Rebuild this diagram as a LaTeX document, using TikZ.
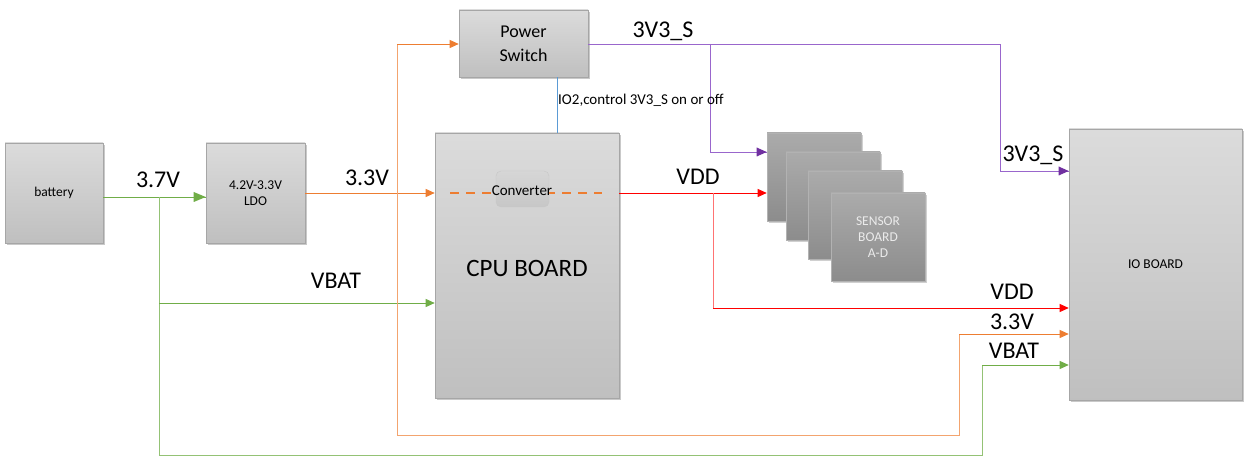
\documentclass[tikz,border=0pt]{standalone}
\usepackage{fontspec}
\setmainfont{Carlito}
\usetikzlibrary{arrows.meta,shadows}
\definecolor{cg}{HTML}{70AD47}
\definecolor{co}{HTML}{ED7D31}
\definecolor{cp}{HTML}{9966CC}
\definecolor{cpd}{HTML}{7030A0}
\definecolor{cr}{HTML}{FF0000}
\definecolor{cb}{HTML}{5B9BD5}
\tikzset{
  box/.style={draw=black!35, line width=0.6pt, top color=black!14, bottom color=black!25,
    drop shadow={shadow xshift=2pt, shadow yshift=-2pt, opacity=0.35, fill=black!60},
    align=center, font=\fontsize{13.5}{16}\selectfont, inner sep=0pt},
  sbox/.style={draw=black!30, line width=0.6pt, top color=black!33, bottom color=black!45,
    drop shadow={shadow xshift=2pt, shadow yshift=-2pt, opacity=0.3, fill=black!60},
    align=center, text=white!92!black, font=\fontsize{13.5}{16}\selectfont,
    minimum width=94, minimum height=88, inner sep=0pt},
  big/.style={font=\fontsize{24}{28}\selectfont, inner sep=0pt},
  wire/.style={line width=0.8pt},
  tip/.style={-{Triangle[length=9pt,width=8pt]}},
}
\begin{document}
\begin{tikzpicture}[x=1pt,y=-1pt]
\useasboundingbox (0,0) rectangle (1250,465);
\fill[white] (0,0) rectangle (1250,465);
% nodes
\node[box, minimum width=98, minimum height=100] (bat) at (54,193) {battery};
\node[box, minimum width=99, minimum height=100] (ldo) at (255.5,193) {4.2V-3.3V\\LDO};
\node[box, minimum width=129, minimum height=67, font=\fontsize{18}{24}\selectfont] (ps) at (523.5,43.5) {Power\\Switch};
\node[box, minimum width=184, minimum height=265] (cpu) at (527,265.5) {};
\node[font=\fontsize{25}{30}\selectfont, inner sep=0pt] (cpul) at (527,268) {CPU BOARD};
\draw[co, dashed, line width=1.8pt, dash pattern=on 9pt off 7pt] (450,193) -- (602,193);
\node[draw=black!22, rounded corners=5pt, top color=black!16, bottom color=black!22,
  minimum width=53, minimum height=36, inner sep=0pt, font=\fontsize{15}{18}\selectfont] (conv) at (522.5,189) {};
\node[font=\fontsize{15}{18}\selectfont, inner sep=0pt] (convl) at (522,191) {Converter};
\node[box, minimum width=173, minimum height=271] (io) at (1155.5,264.5) {IO BOARD};
\node[sbox] (s1) at (814,177) {};
\node[sbox] (s2) at (833,196) {};
\node[sbox] (s3) at (855,215) {};
\node[sbox] (s4) at (878,237) {SENSOR\\BOARD\\A-D};
% coordinates
\coordinate (jg) at (159,197);
\coordinate (gb1) at (159,455);
\coordinate (gb2) at (982,455);
\coordinate (gb3) at (982,365);
\coordinate (gv) at (159,303);
\coordinate (jo) at (397,193);
\coordinate (ot) at (397,44);
\coordinate (ob1) at (397,435);
\coordinate (ob2) at (959,435);
\coordinate (ob3) at (959,334);
\coordinate (jr) at (713,193);
\coordinate (rb) at (713,308);
\coordinate (jp) at (710,44);
\coordinate (pd) at (710,152);
\coordinate (pr) at (1000,44);
\coordinate (prd) at (1000,171);
% green
\draw[wire, cg] ([yshift=-4pt]bat.east) -- ([yshift=-4pt]ldo.west);
\fill[cg] ([yshift=-4pt]ldo.west) -- ++(-12,-5) -- ++(0,10) -- cycle;
\draw[wire, cg!75] (jg) -- (gb1) -- (gb2) -- (gb3);
\draw[wire, cg, tip] (gb3) -- (gb3 -| io.west);
\draw[wire, cg, tip] (gv) -- (gv -| cpu.west);
% orange
\draw[wire, co, tip] (ldo.east) -- (ldo.east -| cpu.west);
\draw[wire, co!70] (ob1) -- (ot);
\draw[wire, co, tip] (ot) -- (ot -| ps.west);
\draw[wire, co!70] (ob1) -- (ob2) -- (ob3);
\draw[wire, co, tip] (ob3) -- (ob3 -| io.west);
% red
\draw[wire, cr, tip] (cpu.east |- jr) -- (jr -| s1.west);
\draw[wire, cr!55] (jr) -- (rb);
\draw[wire, cr, tip] (rb) -- (rb -| io.west);
% purple
\draw[wire, cp] (ps.east |- jp) -- (pr) -- (prd);
\draw[wire, cp] (jp) -- (pd);
\draw[wire, cp] (prd) -- (prd -| io.west);
\draw[wire, cp] (pd) -- (pd -| s1.west);
\fill[cpd] (prd -| io.west) -- ++(-10,-4.5) -- ++(0,9) -- cycle;
\fill[cpd] (pd -| s1.west) -- ++(-10,-4.5) -- ++(0,9) -- cycle;
% blue control
\draw[wire, cb, line width=0.6pt] (ps.south -| 557,0) -- (cpu.north -| 557,0);
% labels
\node[big] (l37) at (158,180) {3.7V};
\node[big] (l33) at (367,178) {3.3V};
\node[big] (lvbat) at (336,281) {VBAT};
\node[big] (l3v3s) at (663,31) {3V3\_S};
\node[big] (lvdd) at (698,177) {VDD};
\node[big] (l3v3s2) at (1033,155) {3V3\_S};
\node[big] (lvdd2) at (1012,292) {VDD};
\node[big] (l332) at (1012,322) {3.3V};
\node[big] (lvbat2) at (1014,351) {VBAT};
\node[anchor=west, inner sep=0pt, font=\fontsize{15}{18}\selectfont] (lio2) at (558,100) {IO2,control 3V3\_S on or off};
\end{tikzpicture}
\end{document}
